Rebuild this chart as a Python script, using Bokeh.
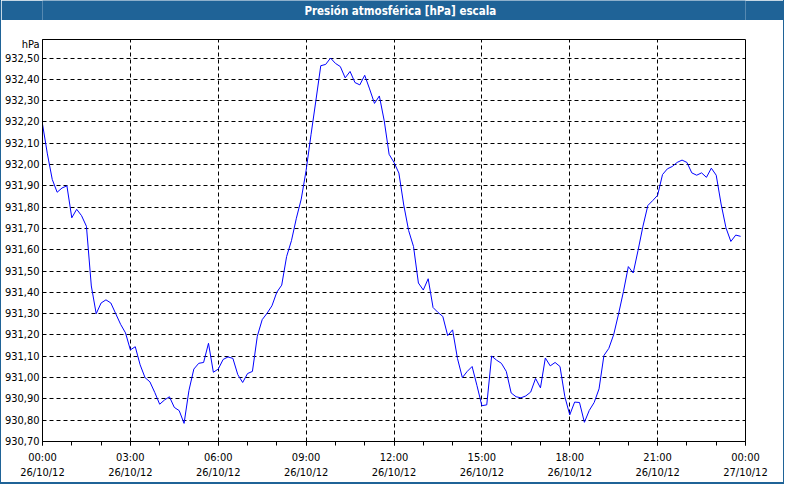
from bokeh.plotting import figure
from bokeh.models import FixedTicker, CustomJSTickFormatter, Range1d, Label, ColumnDataSource
from bokeh.layouts import column
from bokeh.embed import file_html
from bokeh.resources import INLINE
import pandas as pd

# ---- data (one value every 10 minutes) ----
title_text = "Presión atmosférica [hPa] escala"
unit_label = "hPa"
day_start = "2012-10-26 00:00"
day_end = "2012-10-27 00:00"
sample_minutes = 10
pressure = [
    932.19, 932.05, 931.93, 931.87, 931.89, 931.90, 931.75, 931.79, 931.76, 931.71,
    931.43, 931.30, 931.35, 931.365, 931.35, 931.30, 931.25, 931.21, 931.13, 931.145,
    931.06, 931.00, 930.98, 930.93, 930.875, 930.895, 930.91, 930.86, 930.845, 930.785,
    930.94, 931.04, 931.067, 931.071, 931.161, 931.025, 931.04, 931.085, 931.097, 931.09,
    931.014, 930.977, 931.019, 931.029, 931.194, 931.272, 931.302, 931.337, 931.401, 931.434,
    931.568, 931.643, 931.748, 931.838, 931.973, 932.14, 932.30, 932.464, 932.47, 932.50,
    932.475, 932.46, 932.407, 932.437, 932.385, 932.374, 932.419, 932.355, 932.287, 932.322,
    932.205, 932.048, 932.01, 931.96, 931.81, 931.69, 931.615, 931.444, 931.411, 931.464,
    931.329, 931.306, 931.287, 931.197, 931.224, 931.09, 931.00, 931.029, 931.052, 930.962,
    930.868, 930.872, 931.101, 931.082, 931.067, 931.029, 930.928, 930.91, 930.905, 930.914,
    930.932, 930.996, 930.952, 931.092, 931.055, 931.071, 931.052, 930.91, 930.825, 930.885,
    930.883, 930.79, 930.846, 930.883, 930.947, 931.104, 931.137, 931.202, 931.299, 931.404,
    931.521, 931.491, 931.598, 931.711, 931.808, 931.831, 931.856, 931.953, 931.98, 931.991,
    932.01, 932.021, 932.01, 931.961, 931.95, 931.961, 931.94, 931.983, 931.95, 931.815,
    931.703, 931.639, 931.669, 931.663,
]
y_ticks = [930.70, 930.80, 930.90, 931.00, 931.10, 931.20, 931.30, 931.40, 931.50,
           931.60, 931.70, 931.80, 931.90, 932.00, 932.10, 932.20, 932.30, 932.40, 932.50]
unit_label_pos = 932.562   # where the "hPa" caption sits on the value axis
y_min = 930.70
y_max = 932.587
major_hours = [0, 3, 6, 9, 12, 15, 18, 21, 24]
minor_hours = list(range(0, 25))

# ---- styles ----
BAR = "#1f6397"
FONT = "DejaVu Sans Condensed"
LABEL_SIZE = "11px"

start = pd.Timestamp(day_start)
end = pd.Timestamp(day_end)
times = pd.date_range(start, periods=len(pressure), freq=f"{sample_minutes}min")
src = ColumnDataSource(dict(t=times, v=pressure))

def to_ms(ts):
    return ts.value / 1e6

x_major = [to_ms(start + pd.Timedelta(hours=h)) for h in major_hours]
x_minor = [to_ms(start + pd.Timedelta(hours=h)) for h in minor_hours]

W = 782
TITLE_H = 20
MAIN_H = 462

# ---- title bar ----
tp = figure(width=W, height=TITLE_H, output_backend="svg", toolbar_location=None,
            x_range=Range1d(0, W), y_range=Range1d(0, TITLE_H),
            x_axis_location=None, y_axis_location=None, min_border=0,
            background_fill_color=BAR, border_fill_color=BAR, outline_line_color=None)
tp.grid.grid_line_color = None
tp.add_layout(Label(x=398, y=TITLE_H / 2, text=title_text, text_align="center",
                    text_baseline="middle", text_color="white",
                    text_font=FONT, text_font_size="11.5px", text_font_style="bold"))

# ---- main chart ----
p = figure(width=W, height=MAIN_H, x_axis_type="datetime",
           x_range=Range1d(start, end), y_range=Range1d(y_min, y_max),
           output_backend="svg", toolbar_location=None,
           min_border_left=39, min_border_right=38, min_border_top=19, min_border_bottom=37,
           background_fill_color="white", border_fill_color="white")
p.outline_line_color = "black"
p.outline_line_width = 1
p.outline_line_alpha = 1

p.line("t", "v", source=src, line_color="#0000ff", line_width=1)

xa = p.xaxis[0]
xa.ticker = FixedTicker(ticks=x_major, minor_ticks=x_minor)
xa.formatter = CustomJSTickFormatter(code="""
const d = new Date(tick);
const p = n => String(n).padStart(2, '0');
return p(d.getUTCHours()) + ':' + p(d.getUTCMinutes()) + '\\n' +
       p(d.getUTCDate()) + '/' + p(d.getUTCMonth() + 1) + '/' + String(d.getUTCFullYear()).slice(2);
""")
xa.major_tick_in = 0
xa.major_tick_out = 4
xa.minor_tick_in = 0
xa.minor_tick_out = 4
xa.major_label_standoff = 5

ya = p.yaxis[0]
ya.ticker = FixedTicker(ticks=y_ticks + [unit_label_pos])
ya.formatter = CustomJSTickFormatter(
    args=dict(unit=unit_label, upos=unit_label_pos),
    code="if (Math.abs(tick - upos) < 1e-6) { return unit; } return tick.toFixed(2).replace('.', ',');")
ya.major_tick_in = 0
ya.major_tick_out = 0
ya.minor_tick_in = 0
ya.minor_tick_out = 0
ya.major_label_standoff = 3

for ax in (xa, ya):
    ax.axis_line_color = "black"
    ax.major_tick_line_color = "black"
    ax.minor_tick_line_color = "black"
    ax.major_label_text_color = "black"
    ax.major_label_text_font = FONT
    ax.major_label_text_font_size = LABEL_SIZE

for g in (p.xgrid[0], p.ygrid[0]):
    g.grid_line_color = "black"
    g.grid_line_alpha = 1
    g.grid_line_width = 1
    g.grid_line_dash = "4 3"
p.xgrid[0].ticker = FixedTicker(ticks=x_major)
p.ygrid[0].ticker = FixedTicker(ticks=y_ticks)

layout = column(tp, p, spacing=0,
                styles={"border-left": f"1px solid {BAR}", "border-right": f"1px solid {BAR}",
                        "border-bottom": f"2px solid {BAR}"})

open("out.html", "w").write(file_html(layout, INLINE))
